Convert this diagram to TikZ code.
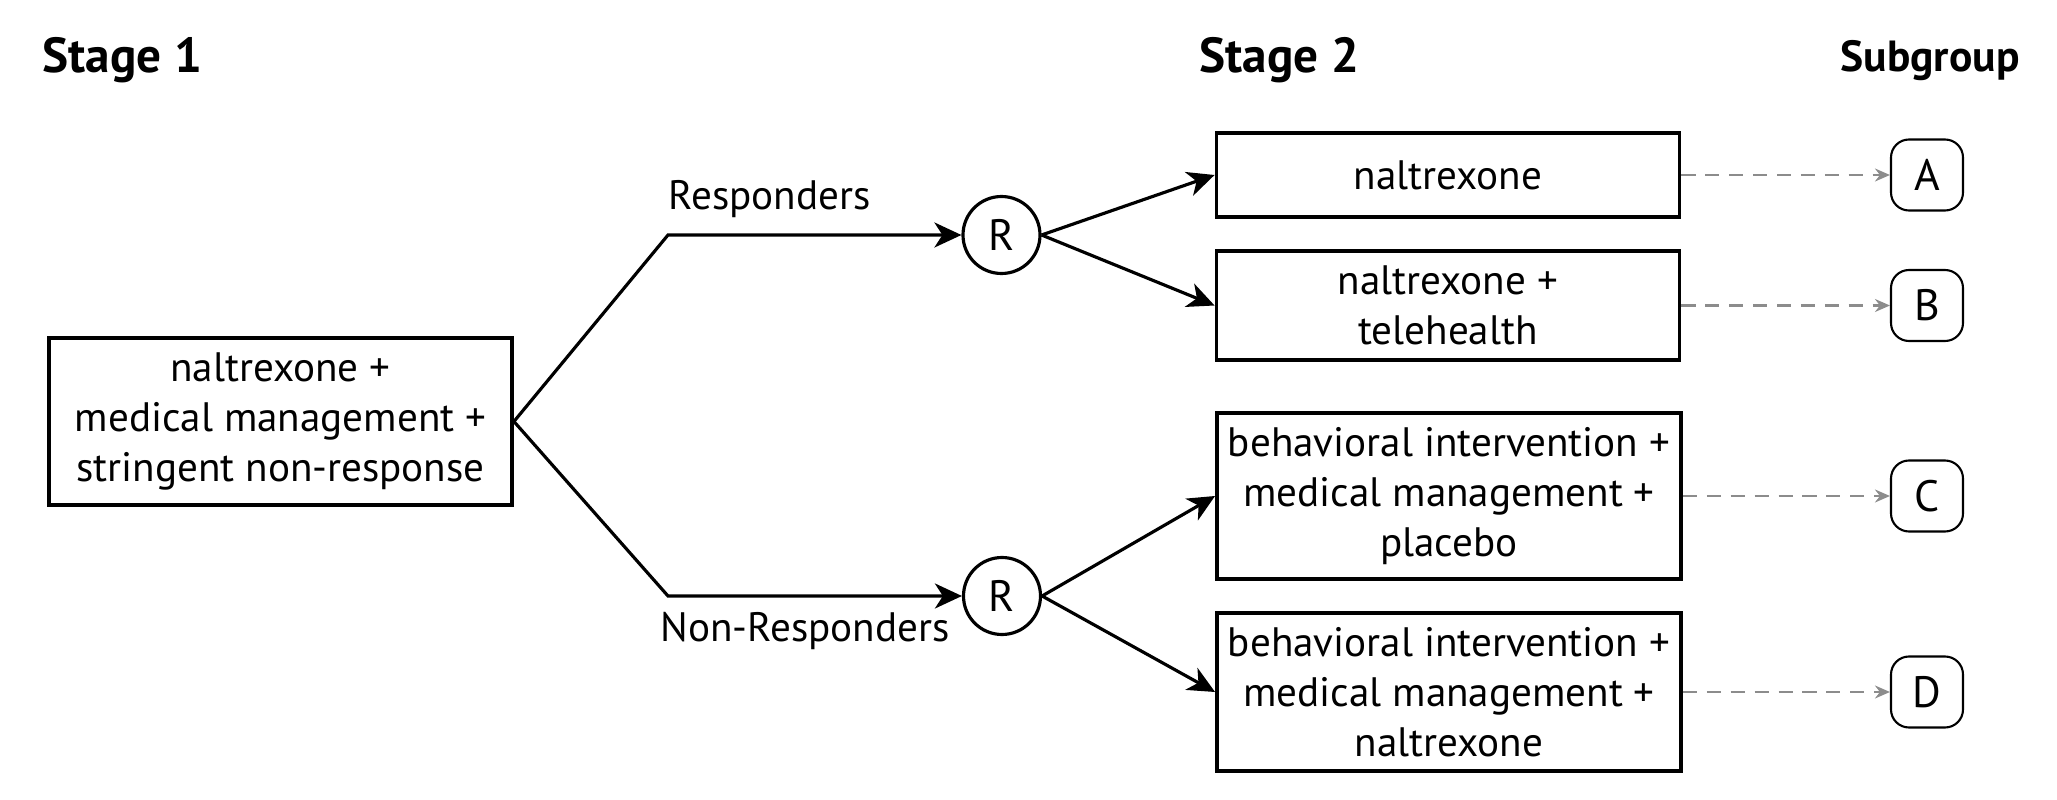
\documentclass[tikz,border=0pt]{standalone}
\usepackage{fontspec}
\setmainfont{PT Sans}
\usepackage{tikz}
\usetikzlibrary{arrows.meta,positioning}
\definecolor{linkgray}{HTML}{8C8C8C}

\begin{document}
\begin{tikzpicture}[
    box/.style={draw, line width=1.1pt, minimum width=4.63cm, align=center, inner sep=0pt,
      font=\fontsize{11.7}{14.2}\selectfont},
    rnode/.style={draw, circle, line width=0.9pt, minimum size=0.77cm, inner sep=0pt,
      font=\fontsize{12.5}{14}\selectfont},
    group/.style={draw, rounded corners=0.18cm, line width=0.6pt, minimum width=0.72cm,
      minimum height=0.71cm, inner sep=0pt, font=\fontsize{12.5}{14}\selectfont},
    arm/.style={line width=0.9pt, -{Stealth[length=0.27cm, width=0.25cm, inset=0.08cm]}},
    link/.style={linkgray, line width=0.6pt, dash pattern=on 4pt off 2.8pt,
      -{Stealth[length=0.15cm, width=0.13cm, inset=0.05cm]}},
    stage/.style={anchor=base west, inner sep=0pt, font=\bfseries\fontsize{14}{16}\selectfont},
    branch/.style={anchor=base west, inner sep=0pt, font=\fontsize{11.7}{14}\selectfont}
  ]
  \useasboundingbox (0,0) rectangle (20.57,7.99);
  % Column headings
  \node[stage] (stage1) at (0.42,7.26) {Stage 1};
  \node[stage] (stage2) at (11.99,7.26) {Stage 2};
  \node[stage, font=\bfseries\fontsize{12.4}{14}\selectfont] (subgroup) at (18.40,7.27) {Subgroup};
  % Stage 1
  \node[box, minimum height=1.67cm] (start) at (2.805,3.775)
    {naltrexone +\\ medical management +\\ stringent non-response};
  \coordinate (up) at (6.68,5.64);
  \coordinate (down) at (6.68,2.03);
  \node[rnode] (r1) at (10.015,5.64) {R};
  \node[rnode] (r2) at (10.02,2.03) {R};
  \node[branch] (resp) at (6.68,5.89) {Responders};
  \node[branch] (nonresp) at (6.60,1.58) {Non-Responders};
  \draw[arm] (start.east) -- (up) -- (r1);
  \draw[arm] (start.east) -- (down) -- (r2);
  % Stage 2
  \node[box, minimum height=0.84cm] (a) at (14.48,6.24) {naltrexone};
  \node[box, minimum height=1.09cm] (b) at (14.48,4.935) {naltrexone +\\ telehealth};
  \node[box, minimum width=4.64cm, minimum height=1.66cm] (c) at (14.49,3.03)
    {behavioral intervention +\\ medical management +\\ placebo};
  \node[box, minimum width=4.64cm, minimum height=1.58cm] (d) at (14.49,1.07)
    {behavioral intervention +\\ medical management +\\ naltrexone};
  \draw[arm] (r1.east) -- (a.west);
  \draw[arm] (r1.east) -- (b.west);
  \draw[arm] (r2.east) -- (c.west);
  \draw[arm] (r2.east) -- (d.west);
  % Subgroups
  \node[group] (ga) at (19.27,6.24) {A};
  \node[group] (gb) at (19.27,4.935) {B};
  \node[group] (gc) at (19.27,3.03) {C};
  \node[group] (gd) at (19.27,1.07) {D};
  \draw[link] (a.east) -- (ga.west);
  \draw[link] (b.east) -- (gb.west);
  \draw[link] (c.east) -- (gc.west);
  \draw[link] (d.east) -- (gd.west);
\end{tikzpicture}
\end{document}
